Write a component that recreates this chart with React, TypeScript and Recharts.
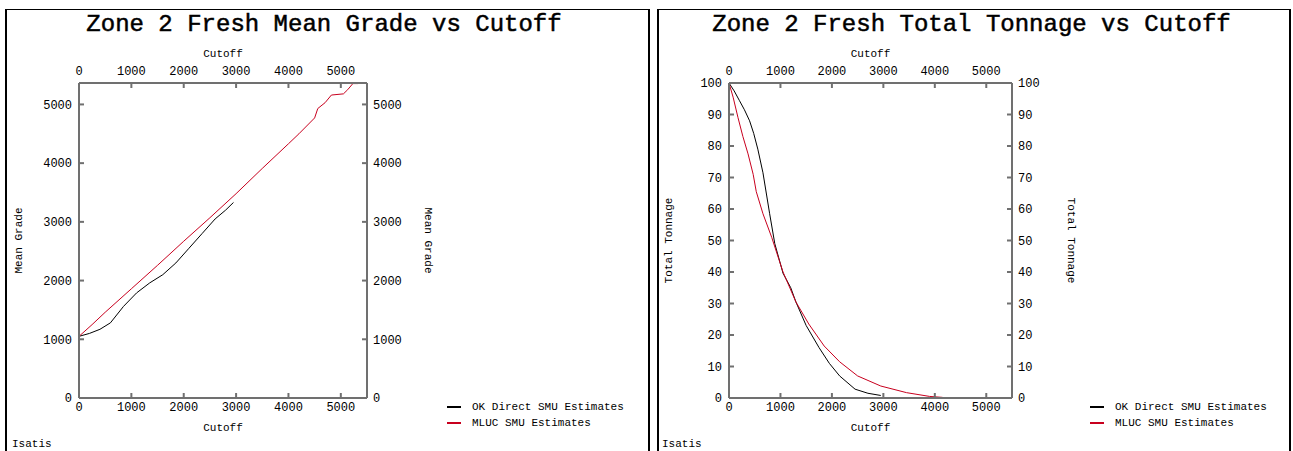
import React from 'react';
import { LineChart, Line, XAxis, YAxis, Label } from 'recharts';

// cutoff axis shared by both panels
const cutoffTicks = [0, 1000, 2000, 3000, 4000, 5000];
const gradeTicks = [0, 1000, 2000, 3000, 4000, 5000];
const tonnageTicks = [0, 10, 20, 30, 40, 50, 60, 70, 80, 90, 100];

// Mean grade vs cutoff
const okGradeCutoff = [0, 200, 400, 600, 850, 1100, 1350, 1600, 1850, 2100, 2350, 2600, 2800, 2950];
const okGrade = [1050, 1100, 1170, 1280, 1560, 1790, 1960, 2100, 2300, 2550, 2800, 3050, 3200, 3330];
const mlucGradeCutoff = [0, 250, 500, 1000, 1500, 2000, 2500, 3000, 3500, 4000, 4200, 4500, 4560, 4700, 4820, 5050, 5130, 5230, 5330];
const mlucGrade = [1050, 1250, 1460, 1860, 2260, 2670, 3070, 3480, 3910, 4330, 4500, 4770, 4930, 5030, 5160, 5180, 5250, 5355, 5355];

// Total tonnage (%) vs cutoff
const okTonCutoff = [0, 100, 200, 300, 400, 480, 560, 660, 790, 890, 1050, 1200, 1300, 1500, 1750, 1950, 2150, 2450, 2700, 2950];
const okTon = [100, 97.5, 94.5, 91.5, 88, 84, 79, 71.5, 58.5, 49, 39.6, 35, 30.5, 23, 16, 11, 7, 2.8, 1.5, 0.8];
const mlucTonCutoff = [0, 80, 175, 270, 370, 470, 530, 660, 830, 1050, 1300, 1550, 1850, 2150, 2500, 2950, 3450, 3900, 4150];
const mlucTon = [100, 95.5, 89, 83, 77.5, 71, 65.5, 58.5, 51, 40, 30.5, 23.5, 16.5, 11.5, 7, 3.8, 1.7, 0.5, 0.2];

const toPoints = (xs: number[], ys: number[]) => xs.map((x, i) => ({ cutoff: x, value: ys[i] }));

const MONO = "'Liberation Mono', 'Courier New', monospace";
const AXIS = '#707070';
const RED = '#c8001e';

const tickStyle = { fontFamily: MONO, fontSize: 12, fill: '#000' };
const labelStyle = { fontFamily: MONO, fontSize: 11, fill: '#000' };

interface PanelProps {
  left: number;
  width: number;
  plotRight: number;
  title: string;
  yLabel: string;
  yDomain: [number, number];
  yTicks: number[];
  ok: { cutoff: number; value: number }[];
  mluc: { cutoff: number; value: number }[];
  rightLabelOffset: number;
  legendX: number;
}

const Panel = ({ left, width, plotRight, title, yLabel, yDomain, yTicks, ok, mluc, rightLabelOffset, legendX }: PanelProps) => {
  const margin = { top: 45, right: width - plotRight - 80, bottom: 13, left: 0 };
  return (
    <div style={{ position: 'absolute', left, top: 0, width, height: 451 }}>
      <div
        style={{
          position: 'absolute',
          left: 0,
          top: 13,
          width: '100%',
          textAlign: 'center',
          fontFamily: MONO,
          fontSize: 24,
          lineHeight: '24px',
          color: '#000',
          WebkitTextStroke: '0.5px #000',
        }}
      >
        {title}
      </div>
      <div style={{ position: 'absolute', left: 0, top: 0 }}>
        <LineChart width={width} height={451} margin={margin}>
          <XAxis
            xAxisId="bottom"
            dataKey="cutoff"
            type="number"
            orientation="bottom"
            height={40}
            domain={[0, 5500]}
            allowDataOverflow
            ticks={cutoffTicks}
            interval={0}
            tickSize={-5}
            tickMargin={9}
            stroke={AXIS}
            strokeWidth={2}
            tick={tickStyle}
          >
            <Label value="Cutoff" position="insideBottom" offset={7} style={labelStyle} />
          </XAxis>
          <XAxis
            xAxisId="top"
            dataKey="cutoff"
            type="number"
            orientation="top"
            height={38}
            domain={[0, 5500]}
            allowDataOverflow
            ticks={cutoffTicks}
            interval={0}
            tickSize={-5}
            tickMargin={13}
            stroke={AXIS}
            strokeWidth={2}
            tick={tickStyle}
          >
            <Label value="Cutoff" position="insideTop" offset={4} style={labelStyle} />
          </XAxis>
          <YAxis
            yAxisId="left"
            type="number"
            orientation="left"
            width={79}
            domain={yDomain}
            allowDataOverflow
            ticks={yTicks}
            interval={0}
            tickSize={-5}
            tickMargin={12}
            stroke={AXIS}
            strokeWidth={2}
            tick={tickStyle}
          >
            <Label value={yLabel} position="insideLeft" offset={18} angle={-90} style={{ ...labelStyle, textAnchor: 'middle' }} />
          </YAxis>
          <YAxis
            yAxisId="right"
            type="number"
            orientation="right"
            width={80}
            domain={yDomain}
            allowDataOverflow
            ticks={yTicks}
            interval={0}
            tickSize={-5}
            tickMargin={11}
            stroke={AXIS}
            strokeWidth={2}
            tick={tickStyle}
          >
            <Label value={yLabel} position="insideLeft" offset={rightLabelOffset} angle={90} style={{ ...labelStyle, textAnchor: 'middle' }} />
          </YAxis>
          <Line
            data={ok}
            xAxisId="bottom"
            yAxisId="left"
            dataKey="value"
            type="linear"
            stroke="#000"
            strokeWidth={1}
            dot={false}
            isAnimationActive={false}
          />
          <Line
            data={mluc}
            xAxisId="bottom"
            yAxisId="left"
            dataKey="value"
            type="linear"
            stroke={RED}
            strokeWidth={1}
            dot={false}
            isAnimationActive={false}
          />
        </LineChart>
      </div>
      {[
        { name: 'OK Direct SMU Estimates', color: '#000', y: 407 },
        { name: 'MLUC SMU Estimates', color: RED, y: 423 },
      ].map(item => (
        <div key={item.name} style={{ position: 'absolute', left: legendX, top: item.y - 7, height: 14, display: 'flex', alignItems: 'center' }}>
          <div style={{ width: 14, height: 2, background: item.color }} />
          <span style={{ marginLeft: 11, fontFamily: MONO, fontSize: 11, color: '#000', whiteSpace: 'nowrap' }}>{item.name}</span>
        </div>
      ))}
      <div style={{ position: 'absolute', left: 12, top: 438, fontFamily: MONO, fontSize: 11, color: '#000' }}>Isatis</div>
    </div>
  );
};

export default function App() {
  return (
    <div style={{ position: 'absolute', left: 0, top: 0, width: 1293, height: 451, background: '#fff', overflow: 'hidden' }}>
      <div style={{ position: 'absolute', left: 5, top: 9, width: 641, height: 450, borderLeft: '2px solid #000', borderTop: '1px solid #000', borderRight: '2px solid #000' }} />
      <div style={{ position: 'absolute', left: 657, top: 9, width: 630, height: 450, borderLeft: '2px solid #000', borderTop: '1px solid #000', borderRight: '2px solid #000' }} />
      <Panel
        left={0}
        width={648}
        plotRight={367}
        title="Zone 2 Fresh Mean Grade vs Cutoff"
        yLabel="Mean Grade"
        yDomain={[0, 5365]}
        yTicks={gradeTicks}
        ok={toPoints(okGradeCutoff, okGrade)}
        mluc={toPoints(mlucGradeCutoff, mlucGrade)}
        rightLabelOffset={62}
        legendX={447}
      />
      <Panel
        left={650}
        width={643}
        plotRight={362}
        title="Zone 2 Fresh Total Tonnage vs Cutoff"
        yLabel="Total Tonnage"
        yDomain={[0, 100]}
        yTicks={tonnageTicks}
        ok={toPoints(okTonCutoff, okTon)}
        mluc={toPoints(mlucTonCutoff, mlucTon)}
        rightLabelOffset={60}
        legendX={440}
      />
    </div>
  );
}
